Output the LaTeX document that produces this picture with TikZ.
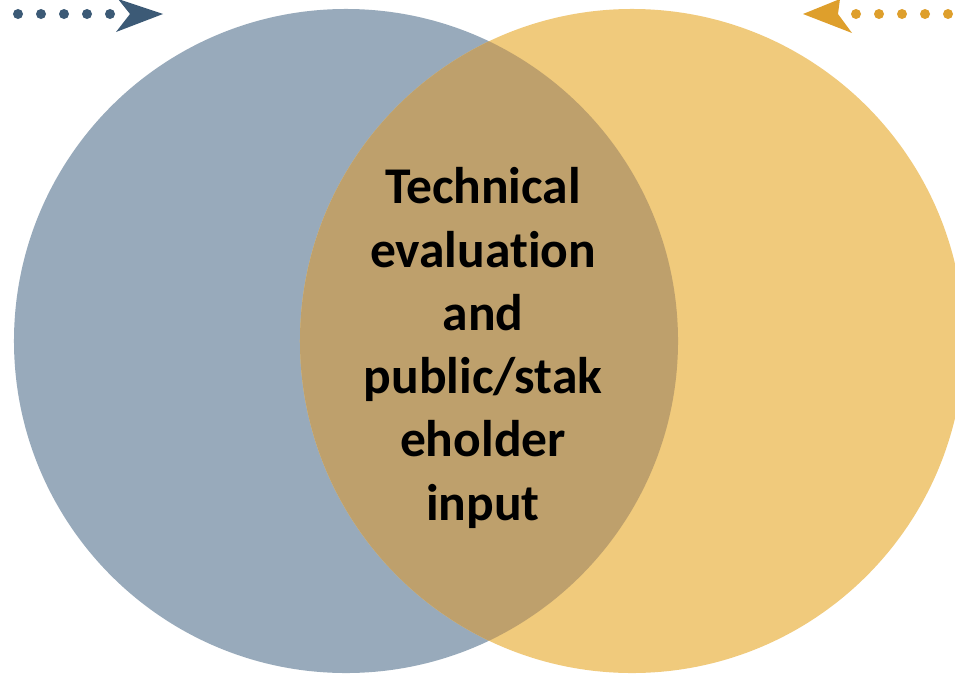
\documentclass[tikz,border=0pt]{standalone}
\usepackage{fontspec}
\setmainfont[Ligatures=NoCommon]{Carlito}
\usepackage{tikz}
\usetikzlibrary{positioning}

\definecolor{slateblue}{HTML}{98AABB}
\definecolor{sandgold}{HTML}{F0CA7C}
\definecolor{mixbrown}{HTML}{BEA06C}
\definecolor{darkslate}{HTML}{3C5A76}
\definecolor{amber}{HTML}{DE9F2C}

\begin{document}
\begin{tikzpicture}[x=0.03cm,y=-0.03cm]

	\tikzset{set circ/.style={circle, draw=none, minimum size=19.92cm, inner sep=0pt}}
	\tikzset{dot/.style={circle, draw=none, minimum size=0.3cm, inner sep=0pt}}
	\tikzset{label txt/.style={align=center, font=\fontsize{44pt}{54pt}\selectfont\bfseries}}

	\useasboundingbox (0,0) rectangle (955,673);

	\node[set circ, fill=slateblue] (L) at (346,341) {};
	\node[set circ, fill=sandgold] (R) at (632,341) {};

	% overlap
	\begin{scope}
		\clip (L.center) circle[radius=9.96cm];
		\fill[mixbrown] (R.center) circle[radius=9.96cm];
	\end{scope}

	\node[label txt] (T) at (483,348) {Technical\\evaluation\\and\\public/stak\\eholder\\input};

	% dotted arrows
	\foreach \x [count=\i] in {18,41,64,87,110} {
		\node[dot, fill=darkslate] (dl\i) at (\x,14) {};
	};
	\foreach \x [count=\i] in {856,879,902,925,948} {
		\node[dot, fill=amber] (dr\i) at (\x,14) {};
	};
	\coordinate (hl) at (163,14);
	\coordinate (hr) at (803,14);
	\fill[darkslate] (hl) -- (118,-1) -- (130,14) -- (116,32) -- cycle;
	\fill[amber] (hr) -- (840,-1) -- (838,14) -- (852,33) -- cycle;

\end{tikzpicture}
\end{document}
